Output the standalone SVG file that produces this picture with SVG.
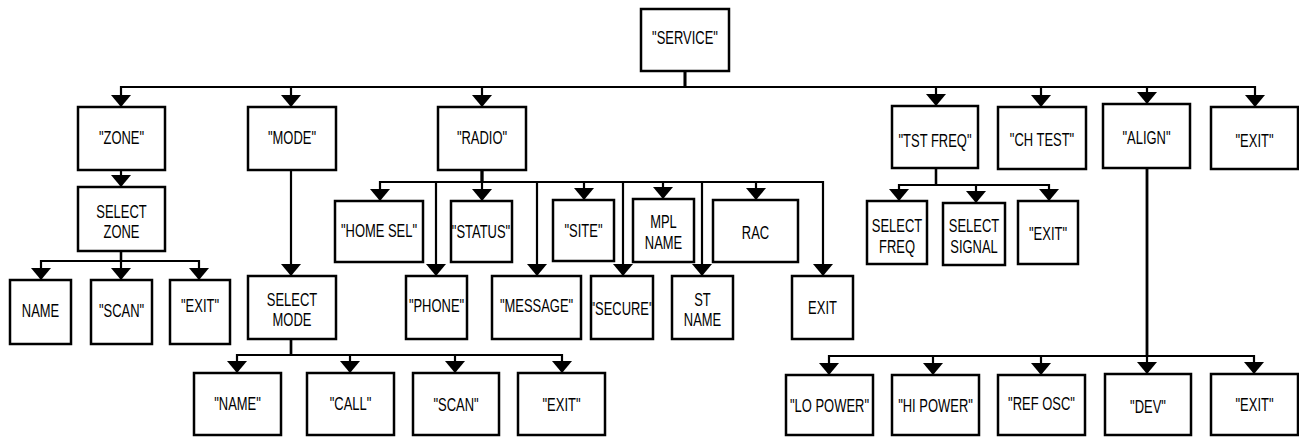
<svg xmlns="http://www.w3.org/2000/svg" width="1299" height="437" viewBox="0 0 1299 437">
<style>
.b{fill:#fff;stroke:#000;stroke-width:2.5}
.c path{fill:none;stroke:#000;stroke-width:2.2;marker-end:url(#ah)}
text{font-family:"Liberation Sans",Arial,sans-serif;font-size:18px;fill:#000;text-anchor:middle}
</style>
<defs>
<marker id="ah" markerUnits="userSpaceOnUse" viewBox="0 0 12 20" markerWidth="12" markerHeight="20" refX="12" refY="10" orient="auto">
<path d="M0,0 L12,10 L0,20 Z" fill="#000"/>
</marker>
</defs>
<g class="c" id="connectors">
<path d="M685,71 V87 H121 V107"/>
<path d="M685,71 V87 H291 V107"/>
<path d="M685,71 V87 H482 V107"/>
<path d="M685,71 V87 H936 V106"/>
<path d="M685,71 V87 H1041 V107"/>
<path d="M685,71 V87 H1147 V104"/>
<path d="M685,71 V87 H1255 V107"/>
<path d="M121,170 V187"/>
<path d="M121,251 V261 H41 V280"/>
<path d="M121,251 V280"/>
<path d="M121,251 V261 H199 V280"/>
<path d="M291,170 V276"/>
<path d="M291,339 V355 H237 V373"/>
<path d="M291,339 V355 H350 V373"/>
<path d="M291,339 V355 H455 V373"/>
<path d="M291,339 V355 H562 V373"/>
<path d="M482,170 V182 H380 V201"/>
<path d="M482,170 V182 H436 V276"/>
<path d="M482,170 V201"/>
<path d="M482,170 V182 H537 V276"/>
<path d="M482,170 V182 H584 V200"/>
<path d="M482,170 V182 H623 V276"/>
<path d="M482,170 V182 H663 V199"/>
<path d="M482,170 V182 H702 V276"/>
<path d="M482,170 V182 H756 V200"/>
<path d="M482,170 V182 H823 V276"/>
<path d="M936,168 V185 H899 V201"/>
<path d="M936,168 V185 H976 V203"/>
<path d="M936,168 V185 H1049 V201"/>
<path d="M1147,168 V356 H829 V375"/>
<path d="M1147,168 V356 H933 V375"/>
<path d="M1147,168 V356 H1041 V375"/>
<path d="M1147,168 V374"/>
<path d="M1147,168 V356 H1254 V374"/>
</g>
<g id="service"><rect class="b" x="641" y="9" width="88" height="62"/><text transform="translate(685,44) scale(0.72,1)">"SERVICE"</text></g>
<g id="zone"><rect class="b" x="78" y="107" width="87" height="63"/><text transform="translate(121.5,144) scale(0.72,1)">"ZONE"</text></g>
<g id="select-zone"><rect class="b" x="78" y="187" width="87" height="64"/><text transform="translate(121.5,218) scale(0.72,1)"><tspan x="0">SELECT</tspan><tspan x="0" dy="20">ZONE</tspan></text></g>
<g id="zone-name"><rect class="b" x="10" y="280" width="61" height="64"/><text transform="translate(40.5,317) scale(0.72,1)">NAME</text></g>
<g id="zone-scan"><rect class="b" x="91" y="280" width="61" height="64"/><text transform="translate(121.5,317) scale(0.72,1)">"SCAN"</text></g>
<g id="zone-exit"><rect class="b" x="170" y="280" width="60" height="64"/><text transform="translate(200,312) scale(0.72,1)">"EXIT"</text></g>
<g id="mode"><rect class="b" x="248" y="107" width="88" height="63"/><text transform="translate(292,144) scale(0.72,1)">"MODE"</text></g>
<g id="select-mode"><rect class="b" x="248" y="276" width="88" height="63"/><text transform="translate(292,305.5) scale(0.72,1)"><tspan x="0">SELECT</tspan><tspan x="0" dy="21">MODE</tspan></text></g>
<g id="mode-name"><rect class="b" x="194" y="373" width="87" height="62"/><text transform="translate(237.5,410) scale(0.72,1)">"NAME"</text></g>
<g id="mode-call"><rect class="b" x="307" y="373" width="87" height="62"/><text transform="translate(350.5,410) scale(0.72,1)">"CALL"</text></g>
<g id="mode-scan"><rect class="b" x="413" y="373" width="86" height="62"/><text transform="translate(456,411) scale(0.72,1)">"SCAN"</text></g>
<g id="mode-exit"><rect class="b" x="518" y="373" width="87" height="62"/><text transform="translate(561.5,411) scale(0.72,1)">"EXIT"</text></g>
<g id="radio"><rect class="b" x="438" y="107" width="88" height="63"/><text transform="translate(482,143.5) scale(0.72,1)">"RADIO"</text></g>
<g id="home-sel"><rect class="b" x="335" y="201" width="88" height="61"/><text transform="translate(379,237) scale(0.72,1)">"HOME SEL"</text></g>
<g id="phone"><rect class="b" x="406" y="276" width="61" height="63"/><text transform="translate(436.5,312) scale(0.72,1)">"PHONE"</text></g>
<g id="status"><rect class="b" x="451" y="201" width="61" height="61"/><text transform="translate(481,238) scale(0.72,1)">"STATUS"</text></g>
<g id="message"><rect class="b" x="492" y="276" width="89" height="63"/><text transform="translate(536.5,312) scale(0.72,1)">"MESSAGE"</text></g>
<g id="site"><rect class="b" x="553" y="200" width="61" height="61"/><text transform="translate(583.5,236.5) scale(0.72,1)">"SITE"</text></g>
<g id="secure"><rect class="b" x="591" y="276" width="62" height="63"/><text transform="translate(622,315) scale(0.72,1)">"SECURE"</text></g>
<g id="mpl-name"><rect class="b" x="633" y="199" width="61" height="63"/><text transform="translate(663.5,228) scale(0.72,1)"><tspan x="0">MPL</tspan><tspan x="0" dy="21">NAME</tspan></text></g>
<g id="st-name"><rect class="b" x="672" y="276" width="61" height="63"/><text transform="translate(702.5,305.5) scale(0.72,1)"><tspan x="0">ST</tspan><tspan x="0" dy="21">NAME</tspan></text></g>
<g id="rac"><rect class="b" x="713" y="200" width="85" height="62"/><text transform="translate(755.5,239) scale(0.72,1)">RAC</text></g>
<g id="radio-exit"><rect class="b" x="792" y="276" width="61" height="63"/><text transform="translate(822.5,314) scale(0.72,1)">EXIT</text></g>
<g id="tst-freq"><rect class="b" x="892" y="106" width="86" height="62"/><text transform="translate(935,147) scale(0.72,1)">"TST FREQ"</text></g>
<g id="ch-test"><rect class="b" x="998" y="107" width="88" height="62"/><text transform="translate(1042,146) scale(0.72,1)">"CH TEST"</text></g>
<g id="align"><rect class="b" x="1103" y="104" width="87" height="64"/><text transform="translate(1146.5,144) scale(0.72,1)">"ALIGN"</text></g>
<g id="exit"><rect class="b" x="1211" y="107" width="87" height="62"/><text transform="translate(1254.5,147) scale(0.72,1)">"EXIT"</text></g>
<g id="select-freq"><rect class="b" x="867" y="201" width="60" height="63"/><text transform="translate(897,232) scale(0.72,1)"><tspan x="0">SELECT</tspan><tspan x="0" dy="21">FREQ</tspan></text></g>
<g id="select-signal"><rect class="b" x="943" y="203" width="62" height="62"/><text transform="translate(974,232) scale(0.72,1)"><tspan x="0">SELECT</tspan><tspan x="0" dy="21">SIGNAL</tspan></text></g>
<g id="tst-exit"><rect class="b" x="1018" y="201" width="60" height="63"/><text transform="translate(1048,240) scale(0.72,1)">"EXIT"</text></g>
<g id="lo-power"><rect class="b" x="786" y="375" width="87" height="60"/><text transform="translate(829.5,411.5) scale(0.72,1)">"LO POWER"</text></g>
<g id="hi-power"><rect class="b" x="892" y="375" width="87" height="60"/><text transform="translate(935.5,412) scale(0.72,1)">"HI POWER"</text></g>
<g id="ref-osc"><rect class="b" x="998" y="375" width="87" height="60"/><text transform="translate(1041.5,410) scale(0.72,1)">"REF OSC"</text></g>
<g id="dev"><rect class="b" x="1105" y="374" width="86" height="61"/><text transform="translate(1148,413) scale(0.72,1)">"DEV"</text></g>
<g id="align-exit"><rect class="b" x="1211" y="374" width="87" height="61"/><text transform="translate(1254.5,411) scale(0.72,1)">"EXIT"</text></g>
</svg>
